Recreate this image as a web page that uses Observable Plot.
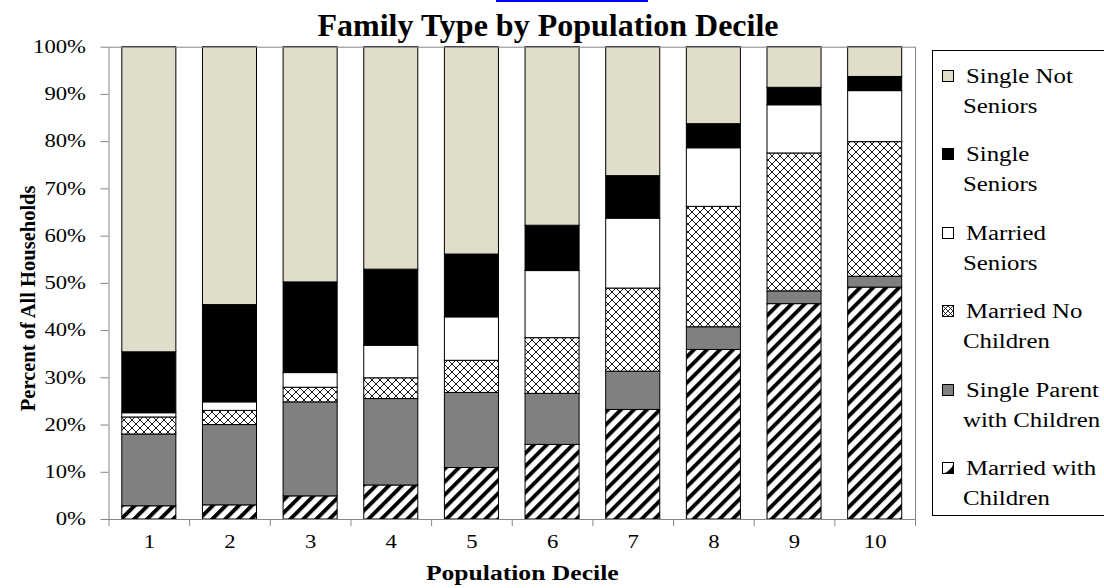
<!DOCTYPE html>
<html>
<head>
<meta charset="utf-8">
<script src="https://cdn.jsdelivr.net/npm/d3@7"></script>
<script src="https://cdn.jsdelivr.net/npm/@observablehq/plot@0.6"></script>
<style>
html, body { margin: 0; padding: 0; background: #fff; }
#wrap { position: relative; width: 1104px; height: 588px; overflow: hidden; font-family: "Liberation Serif", "Times New Roman", serif; color: #000; }
#link { position: absolute; left: 496px; top: 0; width: 152px; height: 2px; background: #0000ff; }
#title { position: absolute; left: 0; width: 1096px; top: 9px; text-align: center; font-weight: bold; font-size: 32px; line-height: 32px; white-space: nowrap; }
#chart { position: absolute; left: 0; top: 0; }
#legend { position: absolute; left: 932px; top: 50px; width: 240px; height: 464px; border: 1px solid #000; background: #fff; }
.item { position: absolute; left: 0; width: 200px; height: 60px; }
.sw { position: absolute; left: 9px; top: 9px; }
.line { position: absolute; font-size: 20px; line-height: 30px; white-space: nowrap; transform: scaleX(1.24); transform-origin: 0 0; }
</style>
</head>
<body>
<div id="wrap">
  <div id="link"></div>
  <div id="title">Family Type by Population Decile</div>
  <div id="chart"></div>
  <div id="legend"></div>
</div>
<script>
// ---- data (percent of all households) ----
const deciles = [1, 2, 3, 4, 5, 6, 7, 8, 9, 10];
const types = ["Married with Children", "Single Parent with Children", "Married No Children", "Married Seniors", "Single Seniors", "Single Not Seniors"];
const marriedWithChildren = [2.8, 3.0, 4.9, 7.2, 10.9, 15.8, 23.2, 35.9, 45.6, 49.1];
const singleParent        = [15.2, 17.0, 19.9, 18.3, 15.9, 10.8, 8.1, 4.8, 2.7, 2.3];
const marriedNoChildren   = [3.6, 3.0, 3.1, 4.4, 6.8, 11.8, 17.6, 25.5, 29.2, 28.5];
const marriedSeniors      = [0.9, 1.8, 3.1, 6.9, 9.2, 14.2, 14.8, 12.4, 10.2, 10.8];
const singleSeniors       = [12.9, 20.6, 19.2, 16.1, 13.3, 9.6, 9.0, 5.1, 3.7, 3.0];
const singleNotSeniors    = [64.6, 54.6, 49.8, 47.1, 43.9, 37.8, 27.3, 16.3, 8.6, 6.3];
const yTicks = [0, 10, 20, 30, 40, 50, 60, 70, 80, 90, 100];
const legendLines = [
  ["Single Not", "Seniors"],
  ["Single", "Seniors"],
  ["Married", "Seniors"],
  ["Married No", "Children"],
  ["Single Parent", "with Children"],
  ["Married with", "Children"]
];
const legendTypes = ["Single Not Seniors", "Single Seniors", "Married Seniors", "Married No Children", "Single Parent with Children", "Married with Children"];

const series = [marriedWithChildren, singleParent, marriedNoChildren, marriedSeniors, singleSeniors, singleNotSeniors];
const rows = [];
deciles.forEach((d, i) => types.forEach((t, j) => rows.push({decile: d, type: t, value: series[j][i]})));
const boundaries = deciles.map(d => d - 0.5).concat([deciles[deciles.length - 1] + 0.5]);

const fills = ["url(#stripes)", "#808080", "url(#cross)", "#ffffff", "#000000", "#E0DDCA"];

const chart = Plot.plot({
  width: 1104,
  height: 588,
  marginLeft: 108.5,
  marginRight: 189,
  marginTop: 46.7,
  marginBottom: 69,
  style: {fontFamily: "'Liberation Serif', 'Times New Roman', serif", fontSize: "18px", color: "#000", background: "transparent", overflow: "visible"},
  x: {domain: [0.5, 10.5]},
  y: {domain: [0, 100]},
  color: {domain: types, range: fills},
  marks: [
    Plot.rectY(rows, {
      x1: d => d.decile - 0.5,
      x2: d => d.decile + 0.5,
      y: "value",
      fill: "type",
      stroke: "#000",
      strokeWidth: 1,
      insetLeft: 13.3,
      insetRight: 13.3
    }),
    Plot.frame({stroke: "#868686"}),
    Plot.axisY({ticks: yTicks, tickSize: 8, tickPadding: 15, tickFormat: d => d + "%", stroke: "#868686", label: null}),
    Plot.axisX({ticks: boundaries, tickSize: 7, tickFormat: () => "", stroke: "#868686", label: null}),
    Plot.axisX({ticks: deciles, tickSize: 0, tickPadding: 16, tickFormat: d => String(d), label: null}),
    Plot.text(["Percent of All Households"], {frameAnchor: "left", textAnchor: "middle", rotate: -90, dx: -80.5, dy: 15, fontWeight: "bold", fontSize: 20.5}),
    Plot.text(["Population Decile"], {frameAnchor: "bottom", textAnchor: "middle", dx: 10, dy: 60, fontWeight: "bold", fontSize: 20})
  ]
});

// patterns
const defs = d3.select(chart).insert("defs", ":first-child");
const sp = defs.append("pattern").attr("id", "stripes").attr("patternUnits", "userSpaceOnUse")
  .attr("width", 9.2).attr("height", 9.2).attr("patternTransform", "rotate(45)");
sp.append("rect").attr("width", 9.2).attr("height", 9.2).attr("fill", "#fff");
sp.append("rect").attr("width", 3.9).attr("height", 9.2).attr("fill", "#000");
const cp = defs.append("pattern").attr("id", "cross").attr("patternUnits", "userSpaceOnUse")
  .attr("width", 8).attr("height", 8);
cp.append("rect").attr("width", 8).attr("height", 8).attr("fill", "#fff");
cp.append("path").attr("d", "M0,0L8,8M8,0L0,8").attr("stroke", "#000").attr("stroke-width", 0.9).attr("fill", "none");

document.getElementById("chart").appendChild(chart);

// horizontal stretch of the text, as in the reference
function stretch(nodes, k) {
  nodes.each(function () {
    const L = this.getComputedTextLength();
    this.setAttribute("textLength", L * k);
    this.setAttribute("lengthAdjust", "spacingAndGlyphs");
  });
}
const svg = d3.select(chart);
stretch(svg.selectAll('g[aria-label="y-axis tick label"] text'), 1.26);
stretch(svg.selectAll('g[aria-label="x-axis tick label"] text').filter(function () { return this.textContent !== ""; }), 1.26);
stretch(svg.selectAll('g[aria-label="text"] text').filter(function () { return this.textContent === "Population Decile"; }), 1.28);

// legend
const legend = document.getElementById("legend");
const colorOf = Object.fromEntries(types.map((t, i) => [t, fills[i]]));
legendTypes.forEach((t, i) => {
  const item = document.createElement("div");
  item.className = "item";
  item.style.top = (10 + i * 78.4) + "px";
  const f = colorOf[t];
  let icon;
  if (t === "Married with Children") {
    icon = '<rect x="0.5" y="0.5" width="11" height="11" fill="#fff" stroke="#000"/><path d="M11.5,2.5L11.5,11.5L2.5,11.5Z" fill="#000"/><path d="M4,10L10,4" stroke="#fff" stroke-width="1.4"/>';
  } else if (t === "Married No Children") {
    icon = '<rect x="0.5" y="0.5" width="11" height="11" fill="#fff" stroke="#000"/><path d="M1,1L11,11M11,1L1,11M6,1L11,6L6,11L1,6Z" stroke="#000" stroke-width="0.8" fill="none"/>';
  } else {
    icon = '<rect x="0.5" y="0.5" width="11" height="11" fill="' + f + '" stroke="#000"/>';
  }
  item.innerHTML = '<svg class="sw" width="12" height="12">' + icon + '</svg>' +
    '<div class="line" style="left:33px;top:0px">' + legendLines[i][0] + '</div>' +
    '<div class="line" style="left:30px;top:30px">' + legendLines[i][1] + '</div>';
  legend.appendChild(item);
});
</script>
</body>
</html>
